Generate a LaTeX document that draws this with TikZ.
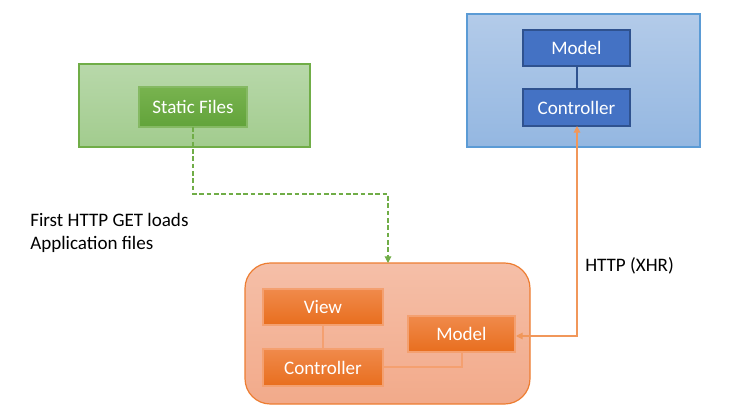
\documentclass[tikz,border=0pt]{standalone}
\usepackage{fontspec}
\setmainfont{Carlito}
\usetikzlibrary{arrows.meta}
\definecolor{gborder}{HTML}{70AD47}
\definecolor{gtop}{HTML}{B8D8AA}
\definecolor{gbot}{HTML}{A2CC8E}
\definecolor{gitop}{HTML}{78B34F}
\definecolor{gibot}{HTML}{62A33A}
\definecolor{bborder}{HTML}{5B9BD5}
\definecolor{btop}{HTML}{B3CBE9}
\definecolor{bbot}{HTML}{94B7E1}
\definecolor{binner}{HTML}{4472C4}
\definecolor{bidraw}{HTML}{2F528F}
\definecolor{oborder}{HTML}{ED7D31}
\definecolor{otop}{HTML}{F5BFA8}
\definecolor{obot}{HTML}{F2AA8A}
\definecolor{oitop}{HTML}{F08A4B}
\definecolor{oibot}{HTML}{E86E1E}
\definecolor{oidraw}{HTML}{F4A070}
\tikzset{
  px/.style={x=0.75pt,y=-0.75pt},
  lbl/.style={font=\fontsize{14.3}{17}\selectfont, text=white, inner sep=0pt},
  txt/.style={font=\fontsize{14.3}{17.3}\selectfont, anchor=north west, inner sep=0pt, align=left},
  gbox/.style={draw=gborder, line width=0.9pt, top color=gtop, bottom color=gbot},
  gin/.style={draw=gborder!85!white, line width=0.9pt, top color=gitop, bottom color=gibot},
  bbox/.style={draw=bborder, line width=0.9pt, top color=btop, bottom color=bbot},
  bin/.style={draw=bidraw, line width=0.8pt, fill=binner},
  obox/.style={draw=oborder, line width=0.9pt, top color=otop, bottom color=obot, rounded corners=19pt},
  oin/.style={draw=oidraw, line width=0.8pt, top color=oitop, bottom color=oibot},
  link/.style={line width=0.8pt},
}
\begin{document}
\begin{tikzpicture}[px]
\useasboundingbox (0,0) rectangle (732,417);
% green
\draw[gbox] (79,64) rectangle (310,147);
\draw[gin] (139,87) rectangle (247,127);
\node[lbl] (sf) at (193,107) {Static Files};
\coordinate (sfb) at (193,127);
% blue
\draw[bbox] (467,14) rectangle (700,147);
\draw[bin] (523,30) rectangle (630,66);
\draw[bin] (523,89) rectangle (630,126);
\node[lbl] (bm) at (576.5,48) {Model};
\node[lbl] (bc) at (576.5,107.5) {Controller};
\coordinate (bmb) at (577,66);
\coordinate (bct) at (577,89);
\coordinate (bcb) at (577,126);
\draw[link, bidraw] (bmb) -- (bct);
% orange
\draw[obox] (245,263) rectangle (530,404);
\coordinate (ot) at (388,263);
\draw[oin] (263,289) rectangle (383,325);
\draw[oin] (263,349) rectangle (383,386);
\draw[oin] (408,316) rectangle (515,352);
\node[lbl] (ov) at (323,307) {View};
\node[lbl] (oc) at (323,367.5) {Controller};
\node[lbl] (om) at (461.5,334) {Model};
\coordinate (ovb) at (323,325);
\coordinate (oct) at (323,349);
\coordinate (ocr) at (383,367);
\coordinate (omb) at (462,352);
\coordinate (omr) at (516,336);
\draw[link, oidraw] (ovb) -- (oct);
\draw[link, oidraw] (ocr) -| (omb);
% connectors
\draw[link, gborder, dashed, dash pattern=on 3.5pt off 2pt, -{Triangle[length=5pt,width=5pt]}]
  (sfb) -- (193,194) -| (ot);
\draw[link, oborder!80!white, {Triangle[length=5pt,width=5pt]}-{Triangle[length=5pt,width=5pt]}]
  (omr) -| (bcb);
% texts
\node[txt] (t1) at (30,213) {First HTTP GET loads\\Application files};
\node[txt] (t2) at (585,257) {HTTP (XHR)};
\end{tikzpicture}
\end{document}
